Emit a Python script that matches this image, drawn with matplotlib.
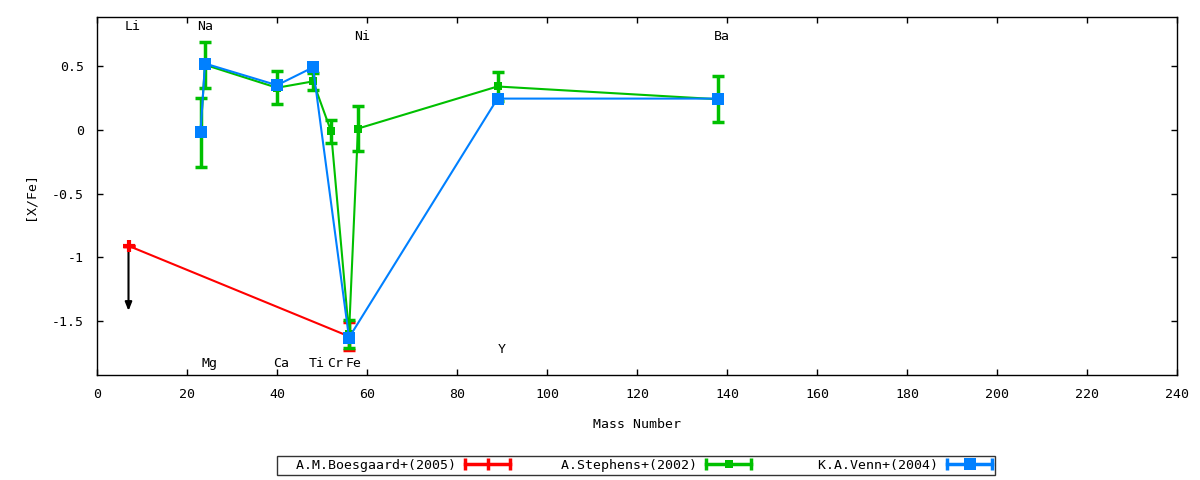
import matplotlib
matplotlib.use("Agg")
import matplotlib.pyplot as plt
from matplotlib.lines import Line2D
from matplotlib.legend_handler import HandlerBase

plt.rcParams['font.family'] = ['DejaVu Sans Mono']
FS = 9.5

# ---- data ----
boes_label = "A.M.Boesgaard+(2005)"
boes_A = [7, 56]
boes_val = [-0.91, -1.62]
boes_err = [0.0, 0.11]
li_limit_A = 7
li_limit_from = -0.91
li_limit_to = -1.42

steph_label = "A.Stephens+(2002)"
steph_A = [23, 24, 40, 48, 52, 56, 58, 89, 138]
steph_val = [-0.02, 0.51, 0.33, 0.38, -0.01, -1.60, 0.01, 0.34, 0.24]
steph_err = [0.27, 0.18, 0.13, 0.065, 0.09, 0.11, 0.175, 0.11, 0.18]

venn_label = "K.A.Venn+(2004)"
venn_A = [23, 24, 40, 48, 56, 89, 138]
venn_val = [-0.02, 0.52, 0.35, 0.49, -1.63, 0.245, 0.245]

elem_names = ["Li", "Na", "Mg", "Ca", "Ti", "Cr", "Fe", "Ni", "Y", "Ba"]
elem_A = [7, 23, 24, 40, 48, 52, 56, 58, 89, 138]
elem_y = [0.81, 0.81, -1.83, -1.83, -1.83, -1.83, -1.83, 0.73, -1.72, 0.73]

xticks = list(range(0, 241, 20))
yticks = [-1.5, -1, -0.5, 0, 0.5]
ytick_labels = ["-1.5", "-1", "-0.5", "0", "0.5"]

RED = "#ff0000"
GREEN = "#00c000"
BLUE = "#0080ff"

fig = plt.figure(figsize=(12, 4.8), dpi=100)
ax = fig.add_axes([97/1200, 1-375/480, (1177-97)/1200, (375-17)/480])

# Boesgaard
ax.errorbar(boes_A, boes_val, yerr=boes_err, fmt='none', ecolor=RED,
            elinewidth=2.5, capsize=4, capthick=2.5, zorder=3)
ax.plot(boes_A, boes_val, color=RED, lw=1.5, marker='+', ms=8, mew=3, zorder=3)

# Stephens
ax.errorbar(steph_A, steph_val, yerr=steph_err, fmt='none', ecolor=GREEN,
            elinewidth=2.5, capsize=4, capthick=2.5, zorder=4)
ax.plot(steph_A, steph_val, color=GREEN, lw=1.5, marker='s', ms=5.5, mew=0, zorder=4)

# Venn
ax.plot(venn_A, venn_val, color=BLUE, lw=1.5, marker='s', ms=8, mew=0, zorder=5)

ax.annotate("", xy=(li_limit_A, li_limit_to), xytext=(li_limit_A, li_limit_from),
            arrowprops=dict(arrowstyle='-|>,head_length=0.5,head_width=0.2',
                            color='black', lw=1.5, shrinkA=0, shrinkB=0), zorder=2)

for n, a, y in zip(elem_names, elem_A, elem_y):
    ax.annotate(n, xy=(a, y), xytext=(3, 0), textcoords='offset points',
                ha='center', va='center', fontsize=FS)

ax.set_xlim(0, 240)
ax.set_ylim(-1.923, 0.885)
ax.set_xticks(xticks)
ax.set_yticks(yticks)
ax.set_yticklabels(ytick_labels)
ax.tick_params(direction='in', length=4.5, width=1, top=True, right=True,
               labelsize=FS, pad=9.5)
for s in ax.spines.values():
    s.set_linewidth(1)

ax.set_xlabel("Mass Number", fontsize=FS, labelpad=12)
ax.set_ylabel("[X/Fe]", fontsize=FS, labelpad=11)


class CapHandler(HandlerBase):
    def create_artists(self, legend, orig_handle, xdescent, ydescent, width,
                       height, fontsize, trans):
        c = orig_handle.get_color()
        y = height / 2 - ydescent
        x0 = -xdescent
        x1 = width - xdescent
        line = Line2D([x0, x1], [y, y], color=c, lw=2.5)
        caps = Line2D([x0, x1], [y, y], ls='none', marker='|', ms=8, mew=2.5, color=c)
        mk = Line2D([(x0 + x1) / 2], [y], ls='none', marker=orig_handle.get_marker(),
                    ms=orig_handle.get_markersize(), mew=orig_handle.get_markeredgewidth(),
                    color=c)
        for a in (line, caps, mk):
            a.set_transform(trans)
        return [line, caps, mk]


labels = [boes_label, steph_label, venn_label]
width = max(len(s) for s in labels) + 2
labels = [s.rjust(width) for s in labels]

h1 = Line2D([], [], color=RED, marker='|', ms=9, mew=2.5)
h2 = Line2D([], [], color=GREEN, marker='s', ms=5.5, mew=0)
h3 = Line2D([], [], color=BLUE, marker='s', ms=8, mew=0)
leg = fig.legend([h1, h2, h3], labels,
                 handler_map={Line2D: CapHandler()}, ncol=3, markerfirst=False,
                 loc='center', bbox_to_anchor=(636/1200, 1-465.5/480),
                 fontsize=FS, frameon=True, fancybox=False,
                 handlelength=3.4, handletextpad=0.72, columnspacing=0.8,
                 borderpad=0.25, borderaxespad=0)
leg.get_frame().set_edgecolor('black')
leg.get_frame().set_linewidth(1)

fig.savefig("out.png", dpi=100)
